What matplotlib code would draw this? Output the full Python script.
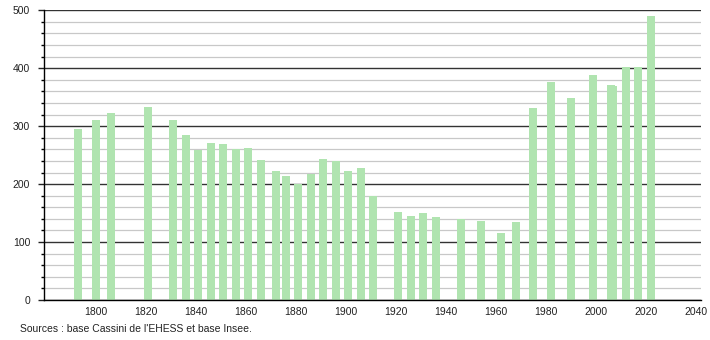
import matplotlib.pyplot as plt
from matplotlib.ticker import MultipleLocator

# années de recensement et population
annees = [1793, 1800, 1806, 1821, 1831, 1836, 1841, 1846, 1851, 1856,
          1861, 1866, 1872, 1876, 1881, 1886, 1891, 1896, 1901, 1906,
          1911, 1921, 1926, 1931, 1936, 1946, 1954, 1962, 1968, 1975,
          1982, 1990, 1999, 2006, 2007, 2012, 2017, 2022]
population = [295, 311, 323, 333, 311, 285, 259, 271, 270, 261,
              263, 241, 222, 214, 200, 218, 243, 240, 222, 228,
              179, 152, 145, 150, 143, 139, 136, 116, 134, 331,
              376, 348, 388, 371, 369, 403, 402, 490]
yticks = [0, 100, 200, 300, 400, 500]
xticks = [1800, 1820, 1840, 1860, 1880, 1900, 1920, 1940, 1960, 1980, 2000, 2020, 2040]

plt.rcParams['font.family'] = ['Liberation Sans', 'DejaVu Sans']

fig = plt.figure(figsize=(7.1, 3.4), dpi=100)
ax = fig.add_axes([44 / 710, 40 / 340, 656.5 / 710, 289.7 / 340])

ax.bar(annees, population, width=3.2, color='#b0e4b0', zorder=3)

# grille : majeure tous les 100, mineure tous les 20
ax.set_ylim(0, 500)
ax.set_xlim(1779.4, 2041.8)
ax.set_yticks(yticks)
ax.yaxis.set_minor_locator(MultipleLocator(20))
ax.set_xticks(xticks)
ax.grid(axis='y', which='minor', color='#c8c8c8', linewidth=0.9, zorder=1)
ax.grid(axis='y', which='major', color='#333333', linewidth=1.0, zorder=2)

for s in ['top', 'right']:
    ax.spines[s].set_visible(False)
ax.spines['left'].set_linewidth(1.0)
ax.spines['bottom'].set_linewidth(1.0)
ax.spines['bottom'].set_zorder(4)

ax.tick_params(axis='y', which='major', length=4, width=1, pad=6, labelsize=7.5, colors='#222222')
ax.tick_params(axis='y', which='minor', length=2, width=1)
ax.tick_params(axis='x', length=0, pad=5, labelsize=7.5, colors='#222222')

fig.text(20 / 710, 11 / 340, "Sources : base Cassini de l'EHESS et base Insee.",
         fontsize=7.5, va='center', ha='left', color='#222222')

fig.savefig('out.png', dpi=100)
